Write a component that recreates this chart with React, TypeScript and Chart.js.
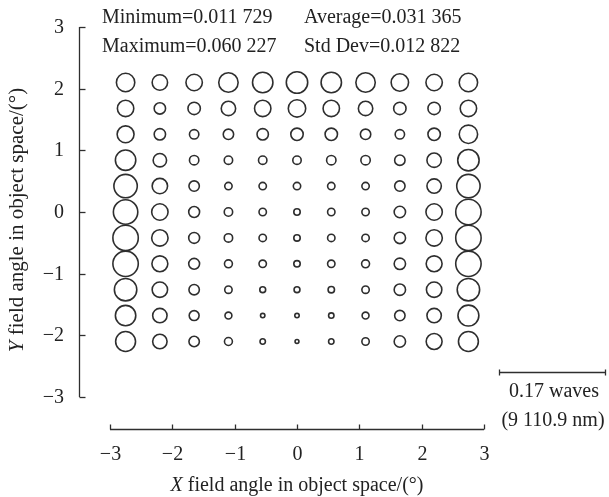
import React, { useEffect, useRef } from "react";
import { Chart, registerables } from "chart.js";

Chart.register(...registerables);

// Field positions (degrees)
const xFields = [-2.75, -2.2, -1.65, -1.1, -0.55, 0, 0.55, 1.1, 1.65, 2.2, 2.75];
const yFields = [2.1, 1.68, 1.26, 0.84, 0.42, 0, -0.42, -0.84, -1.26, -1.68, -2.1];

// Aberration magnitude (waves) per row, from top (y=2.1) to bottom (y=-2.1)
const rowY210 = [0.0444, 0.0377, 0.0399, 0.0467, 0.0489, 0.0512, 0.0489, 0.0467, 0.0422, 0.0399, 0.0444];
const rowY168 = [0.0399, 0.0286, 0.0309, 0.0354, 0.0399, 0.0422, 0.0399, 0.0354, 0.0309, 0.0309, 0.0399];
const rowY126 = [0.0411, 0.0286, 0.0241, 0.0264, 0.0286, 0.0309, 0.0309, 0.0264, 0.0241, 0.0309, 0.0444];
const rowY084 = [0.0489, 0.0332, 0.0241, 0.0219, 0.0219, 0.0219, 0.0241, 0.0241, 0.0264, 0.0354, 0.0512];
const rowY042 = [0.0557, 0.0377, 0.0264, 0.0196, 0.0196, 0.0196, 0.0196, 0.0196, 0.0264, 0.0354, 0.0557];
const rowY000 = [0.0580, 0.0399, 0.0275, 0.0219, 0.0196, 0.0174, 0.0196, 0.0196, 0.0286, 0.0399, 0.0602];
const rowYm042 = [0.0602, 0.0399, 0.0275, 0.0219, 0.0196, 0.0174, 0.0196, 0.0196, 0.0286, 0.0399, 0.0602];
const rowYm084 = [0.0602, 0.0388, 0.0275, 0.0208, 0.0196, 0.0174, 0.0196, 0.0208, 0.0286, 0.0388, 0.0602];
const rowYm126 = [0.0535, 0.0377, 0.0264, 0.0196, 0.0162, 0.0162, 0.0174, 0.0196, 0.0286, 0.0377, 0.0535];
const rowYm168 = [0.0489, 0.0354, 0.0253, 0.0185, 0.0129, 0.0129, 0.0151, 0.0185, 0.0264, 0.0354, 0.0501];
const rowYm210 = [0.0478, 0.0354, 0.0264, 0.0208, 0.0151, 0.0117, 0.0151, 0.0196, 0.0286, 0.0388, 0.0478];
const rows = [rowY210, rowY168, rowY126, rowY084, rowY042, rowY000, rowYm042, rowYm084, rowYm126, rowYm168, rowYm210];

const tickValues = [-3, -2, -1, 0, 1, 2, 3];
const tickLabels = ["\u22123", "\u22122", "\u22121", "0", "1", "2", "3"];

const statsLine1 = ["Minimum=0.011 729", "Average=0.031 365"];
const statsLine2 = ["Maximum=0.060 227", "Std Dev=0.012 822"];
const scaleText = ["0.17 waves", "(9 110.9 nm)"];
const xTitle = ["X", " field angle in object space/(\u00b0)"];
const yTitle = ["Y", " field angle in object space/(\u00b0)"];

const INK = "#2e2e2e";
const FONT = '"Liberation Serif", "Times New Roman", serif';
const CIRCLE_LW = 1.6;

function radiusFor(v: number) {
  return Math.max(1, 221.7 * v - 0.65);
}

const axesPlugin = {
  id: "detachedAxes",
  afterDraw(chart: any) {
    const { ctx } = chart;
    const xs = chart.scales.x;
    const ys = chart.scales.y;
    ctx.save();
    ctx.strokeStyle = INK;
    ctx.fillStyle = "#222";
    ctx.lineWidth = 1.3;

    // Y axis (detached to the left)
    const yAxisX = 79.5;
    ctx.beginPath();
    ctx.moveTo(yAxisX, ys.getPixelForValue(3));
    ctx.lineTo(yAxisX, ys.getPixelForValue(-3));
    ctx.stroke();
    ctx.font = `20px ${FONT}`;
    ctx.textAlign = "right";
    ctx.textBaseline = "middle";
    tickValues.forEach((t, i) => {
      const py = Math.round(ys.getPixelForValue(t)) + 0.5;
      ctx.beginPath();
      ctx.moveTo(yAxisX, py);
      ctx.lineTo(yAxisX + 6, py);
      ctx.stroke();
      ctx.fillText(tickLabels[i], 64, py);
    });

    // X axis (detached below)
    const xAxisY = 429.5;
    ctx.beginPath();
    ctx.moveTo(xs.getPixelForValue(-3), xAxisY);
    ctx.lineTo(xs.getPixelForValue(3), xAxisY);
    ctx.stroke();
    ctx.textAlign = "center";
    tickValues.forEach((t, i) => {
      const px = Math.round(xs.getPixelForValue(t)) + 0.5;
      ctx.beginPath();
      ctx.moveTo(px, xAxisY);
      ctx.lineTo(px, xAxisY - 5);
      ctx.stroke();
      ctx.fillText(tickLabels[i], px, 455);
    });

    // Titles with italic variable letter
    const drawTitle = (parts: string[], cx: number, cy: number, size: number) => {
      ctx.font = `italic ${size}px ${FONT}`;
      const w0 = ctx.measureText(parts[0]).width;
      ctx.font = `${size}px ${FONT}`;
      const w1 = ctx.measureText(parts[1]).width;
      const start = cx - (w0 + w1) / 2;
      ctx.textAlign = "left";
      ctx.font = `italic ${size}px ${FONT}`;
      ctx.fillText(parts[0], start, cy);
      ctx.font = `${size}px ${FONT}`;
      ctx.fillText(parts[1], start + w0, cy);
    };
    drawTitle(xTitle, xs.getPixelForValue(0), 486, 20);

    ctx.save();
    ctx.translate(17, 220);
    ctx.rotate(-Math.PI / 2);
    drawTitle(yTitle, 0, 0, 21);
    ctx.restore();

    // Statistics text
    ctx.textAlign = "left";
    ctx.textBaseline = "alphabetic";
    ctx.font = `20px ${FONT}`;
    ctx.fillText(statsLine1[0], 102, 23);
    ctx.fillText(statsLine1[1], 304, 23);
    ctx.fillText(statsLine2[0], 102, 52);
    ctx.fillText(statsLine2[1], 304, 52);

    // Scale bar
    const sy = 372.5;
    ctx.beginPath();
    ctx.moveTo(499, sy);
    ctx.lineTo(606, sy);
    ctx.moveTo(499.5, sy - 3);
    ctx.lineTo(499.5, sy + 3);
    ctx.moveTo(605.5, sy - 3);
    ctx.lineTo(605.5, sy + 3);
    ctx.stroke();
    ctx.textAlign = "center";
    ctx.textBaseline = "middle";
    ctx.fillText(scaleText[0], 554, 392);
    ctx.fillText(scaleText[1], 553, 421);

    ctx.restore();
  },
};

export default function App() {
  const ref = useRef<HTMLCanvasElement | null>(null);
  useEffect(() => {
    if (!ref.current) return;
    const points: { x: number; y: number; v: number }[] = [];
    rows.forEach((row, ri) => {
      row.forEach((v, ci) => {
        points.push({ x: xFields[ci], y: yFields[ri], v });
      });
    });
    const chart = new Chart(ref.current, {
      type: "scatter",
      data: {
        datasets: [
          {
            data: points as any,
            pointStyle: "circle",
            pointRadius: (c: any) => radiusFor(c.raw.v),
            pointHoverRadius: (c: any) => radiusFor(c.raw.v),
            pointBackgroundColor: "rgba(255,255,255,0)",
            pointBorderColor: INK,
            pointBorderWidth: CIRCLE_LW,
            clip: false as any,
          },
        ],
      },
      options: {
        responsive: false,
        animation: false,
        events: [],
        layout: { padding: { left: 110, right: 125, top: 27, bottom: 100 } },
        plugins: { legend: { display: false }, tooltip: { enabled: false } },
        scales: {
          x: { type: "linear", min: -3, max: 3, display: false },
          y: { type: "linear", min: -3, max: 3, display: false },
        },
      },
      plugins: [axesPlugin],
    });
    return () => chart.destroy();
  }, []);
  return (
    <div style={{ position: "absolute", left: 0, top: 0, width: 609, height: 497, background: "#fff" }}>
      <canvas ref={ref} width={609} height={497} />
    </div>
  );
}
